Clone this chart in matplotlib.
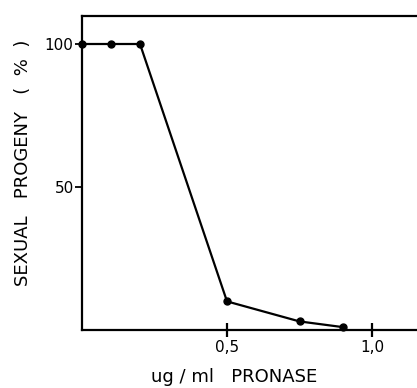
import matplotlib
matplotlib.use("Agg")
import matplotlib.pyplot as plt

pronase = [0.0, 0.1, 0.2, 0.5, 0.75, 0.9]
progeny = [100, 100, 100, 10, 3, 1]
xticks = [0.5, 1.0]
xticklabels = ["0,5", "1,0"]
yticks = [50, 100]

fig = plt.figure(figsize=(4.17, 3.88), dpi=100)
ax = fig.add_axes([82 / 417, 58 / 388, (417 - 82) / 417, 314 / 388])
ax.plot(pronase, progeny, color="black", lw=1.6, marker="o", ms=5, clip_on=False)
ax.set_xlim(0, (417 - 82) / 290)
ax.set_ylim(0, 314 / 2.86)
ax.spines["right"].set_visible(False)
for s in ["left", "bottom", "top"]:
    ax.spines[s].set_linewidth(1.6)
ax.set_xticks(xticks)
ax.set_xticklabels(xticklabels)
ax.set_yticks(yticks)
ax.tick_params(axis="x", direction="inout", length=10, width=1.6, labelsize=11, pad=2)
ax.tick_params(axis="y", direction="out", length=5, width=1.3, labelsize=11, pad=1)
ax.set_xlabel("ug / ml   PRONASE", fontsize=13)
ax.xaxis.set_label_coords(0.453, -0.12)
ax.set_ylabel("SEXUAL   PROGENY   (  %  )", fontsize=13)
ax.yaxis.set_label_coords(-0.15, 0.532)
fig.savefig("out.png", dpi=100)
